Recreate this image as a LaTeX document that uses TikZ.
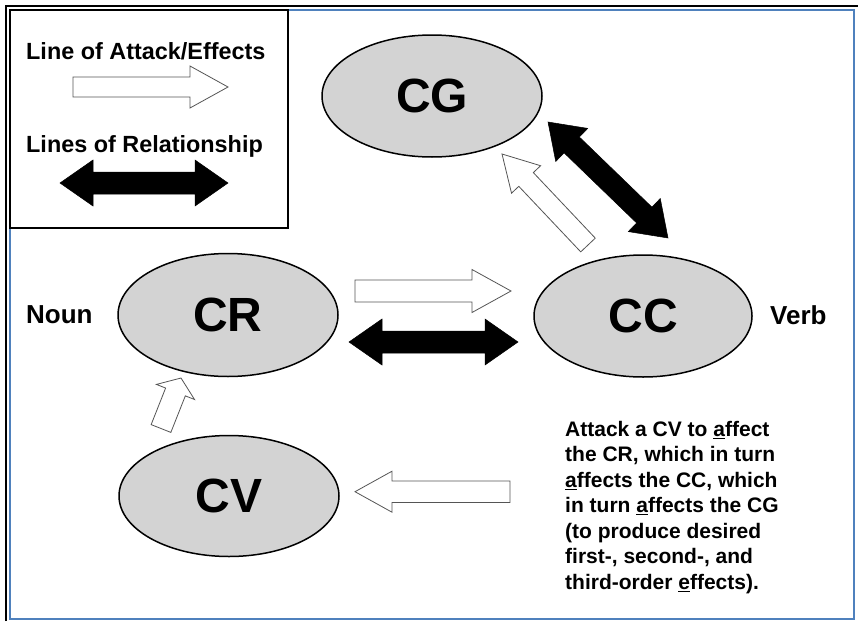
\documentclass[tikz,border=0pt]{standalone}
\usepackage{fontspec}
\setmainfont{Liberation Sans}
\usetikzlibrary{calc,shapes.geometric}
\definecolor{ellfill}{RGB}{211,211,211}
\definecolor{frameblue}{RGB}{79,129,189}
\definecolor{arrowedge}{RGB}{85,85,85}

% single block arrow: #1 style, #2 tail, #3 tip, #4 half body width, #5 half head width, #6 head length
\newcommand\blockarrow[6]{%
  \path let \p1=(#2), \p2=(#3) in \pgfextra{%
    \pgfmathsetmacro\baAngTmp{atan2(\y2-\y1,\x2-\x1)}%
    \pgfmathsetmacro\baLenTmp{veclen(\x2-\x1,\y2-\y1)}%
    \global\let\baAng\baAngTmp \global\let\baLen\baLenTmp};
  \begin{scope}[shift={(#2)}, rotate=\baAng]
    \draw[#1] (0,#4) -- (\baLen-#6,#4) -- (\baLen-#6,#5) -- (\baLen,0)
      -- (\baLen-#6,-#5) -- (\baLen-#6,-#4) -- (0,-#4) -- cycle;
  \end{scope}}
% double block arrow
\newcommand\dblarrow[6]{%
  \path let \p1=(#2), \p2=(#3) in \pgfextra{%
    \pgfmathsetmacro\baAngTmp{atan2(\y2-\y1,\x2-\x1)}%
    \pgfmathsetmacro\baLenTmp{veclen(\x2-\x1,\y2-\y1)}%
    \global\let\baAng\baAngTmp \global\let\baLen\baLenTmp};
  \begin{scope}[shift={(#2)}, rotate=\baAng]
    \draw[#1] (0,0) -- (#6,#5) -- (#6,#4) -- (\baLen-#6,#4) -- (\baLen-#6,#5) -- (\baLen,0)
      -- (\baLen-#6,-#5) -- (\baLen-#6,-#4) -- (#6,-#4) -- (#6,-#5) -- cycle;
  \end{scope}}

\tikzset{
  ell/.style={ellipse, draw=black, fill=ellfill, line width=1.5pt, inner sep=0pt,
    font=\bfseries\fontsize{48pt}{52pt}\selectfont},
  whitearrow/.style={draw=arrowedge, fill=white, line width=0.8pt, line join=miter},
  blackarrow/.style={draw=black, fill=black, line width=0.5pt, line join=miter},
  lbl/.style={font=\bfseries\fontsize{23.4pt}{26pt}\selectfont, inner sep=0pt},
  side/.style={font=\bfseries\fontsize{26pt}{28pt}\selectfont, inner sep=0pt},
}

\begin{document}
\begin{tikzpicture}[x=1pt,y=-1pt]
\useasboundingbox (0,0) rectangle (858,621);
\fill[white] (0,0) rectangle (858,621);
% frame
\draw[line width=2.5pt] (6,621) -- (6,6) -- (858,6);
\draw[frameblue, line width=2pt] (10,10) rectangle (854,619);

% ellipses
\node[ell, minimum width=220pt, minimum height=122pt] (CG) at (432,96) {CG};
\node[ell, minimum width=220pt, minimum height=123pt] (CR) at (228,315) {CR};
\node[ell, minimum width=218pt, minimum height=122pt] (CC) at (643,316) {CC};
\node[ell, minimum width=220pt, minimum height=121pt] (CV) at (229,496) {CV};
\node[side, anchor=west] (noun) at (26,315) {Noun};
\node[side, anchor=west] (verb) at (770,315) {Verb};

% legend box
\draw[line width=2.5pt, fill=white] (10,10) rectangle (288,228);
\node[lbl, anchor=west] (leg1) at (26,51) {Line of Attack/Effects};
\node[lbl, anchor=west] (leg2) at (26,146) {Lines of Relationship};
\coordinate (la1) at (73,87);  \coordinate (la2) at (228,87);
\coordinate (lb1) at (60,183); \coordinate (lb2) at (228,183);
\blockarrow{whitearrow}{la1}{la2}{10}{21}{38}
\dblarrow{blackarrow}{lb1}{lb2}{11}{23}{33}

% arrows between ellipses
\coordinate (m1) at (355,291); \coordinate (m2) at (511,291);
\blockarrow{whitearrow}{m1}{m2}{11}{21.5}{39}
\coordinate (r1) at (349,342); \coordinate (r2) at (518,342);
\dblarrow{blackarrow}{r1}{r2}{11}{23}{33}
\coordinate (g1) at (588,245); \coordinate (g2) at (502,154);
\blockarrow{whitearrow}{g1}{g2}{10}{20}{35}
\coordinate (gc1) at (548,122); \coordinate (gc2) at (668,238);
\dblarrow{blackarrow}{gc1}{gc2}{11}{23}{33}
\coordinate (v1) at (161,428.5); \coordinate (v2) at (181,378);
\blockarrow{whitearrow}{v1}{v2}{10.6}{20.5}{15}
\coordinate (b1) at (510,491.7); \coordinate (b2) at (355,491.7);
\blockarrow{whitearrow}{b1}{b2}{10.7}{20.5}{37}

% note
\node[anchor=north west, align=left, inner sep=0pt,
  font=\bfseries\fontsize{21pt}{25.5pt}\selectfont] (note) at (565,421)
  {Attack a CV to \underline{a}ffect\\the CR, which in turn\\\underline{a}ffects the CC, which\\in turn \underline{a}ffects the CG\\(to produce desired\\first-, second-, and\\third-order \underline{e}ffects).};
\end{tikzpicture}
\end{document}
